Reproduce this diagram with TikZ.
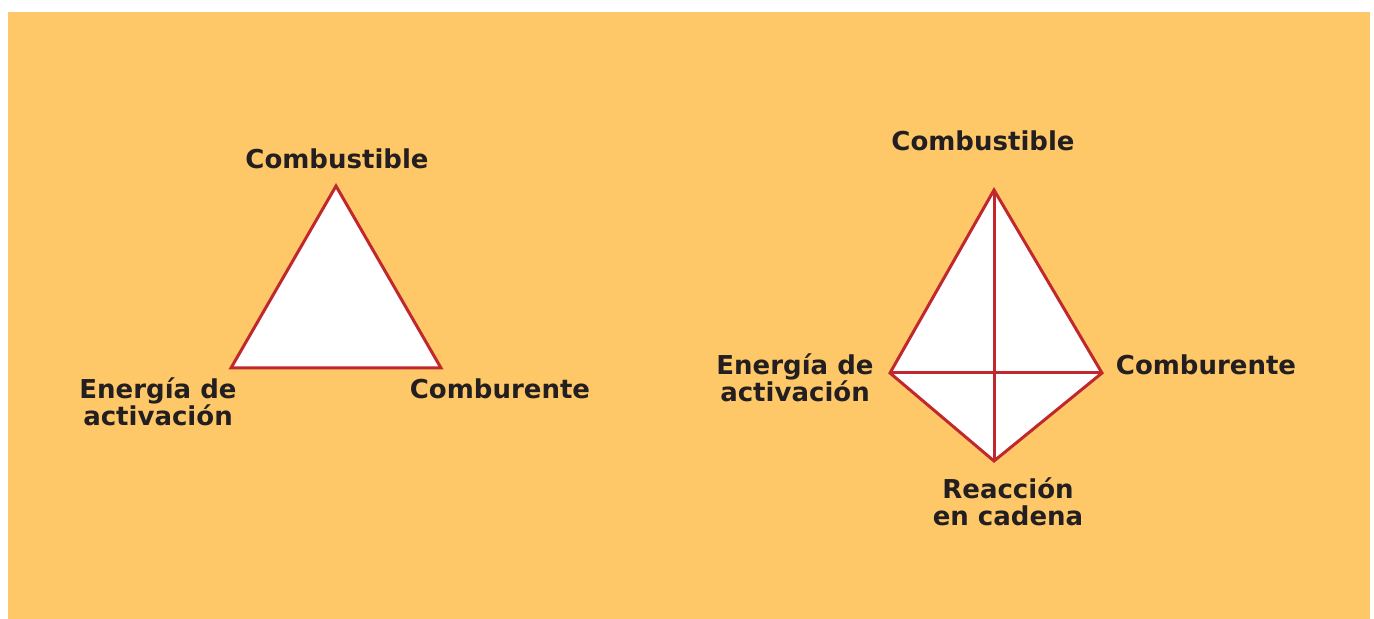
\documentclass[tikz,border=0pt]{standalone}
\usepackage{xcolor}
\usepackage{fontspec}
\setmainfont{DejaVu Sans}
\usepackage{tikz}

\definecolor{fondo}{RGB}{254,200,104}
\definecolor{rojo}{RGB}{192,40,45}
\definecolor{texto}{RGB}{35,31,32}

\begin{document}
\begin{tikzpicture}[x=0.5pt, y=-0.5pt,
    lado/.style={draw=rojo, line width=1.5pt, line join=miter},
    rotulo/.style={font=\bfseries\fontsize{13}{13.5}\selectfont, text=texto, align=center, inner sep=0pt}]
    \useasboundingbox (0,0) rectangle (1374,619);
    \fill[fondo] (8,12) rectangle (1370,619);

    % triangulo del fuego
    \coordinate (t1) at (336,186);
    \coordinate (t2) at (231,368);
    \coordinate (t3) at (441,368);
    \filldraw[lado, fill=white] (t1) -- (t3) -- (t2) -- cycle;
    \node[rotulo] (tcomb) at (337,159) {Combustible};
    \node[rotulo] (tener) at (158,402) {Energía de\\activación};
    \node[rotulo] (tcomu) at (500,389) {Comburente};

    % tetraedro del fuego
    \coordinate (d1) at (994,190);
    \coordinate (d2) at (890,373);
    \coordinate (d3) at (1102,373);
    \coordinate (d4) at (994,461);
    \filldraw[lado, fill=white] (d1) -- (d3) -- (d4) -- (d2) -- cycle;
    \draw[lado] (d1) -- (d4);
    \draw[lado] (d2) -- (d3);
    \node[rotulo] (dcomb) at (983,141) {Combustible};
    \node[rotulo] (dener) at (795,378) {Energía de\\activación};
    \node[rotulo] (dcomu) at (1206,365) {Comburente};
    \node[rotulo] (dreac) at (1008,502) {Reacción\\en cadena};
\end{tikzpicture}
\end{document}
